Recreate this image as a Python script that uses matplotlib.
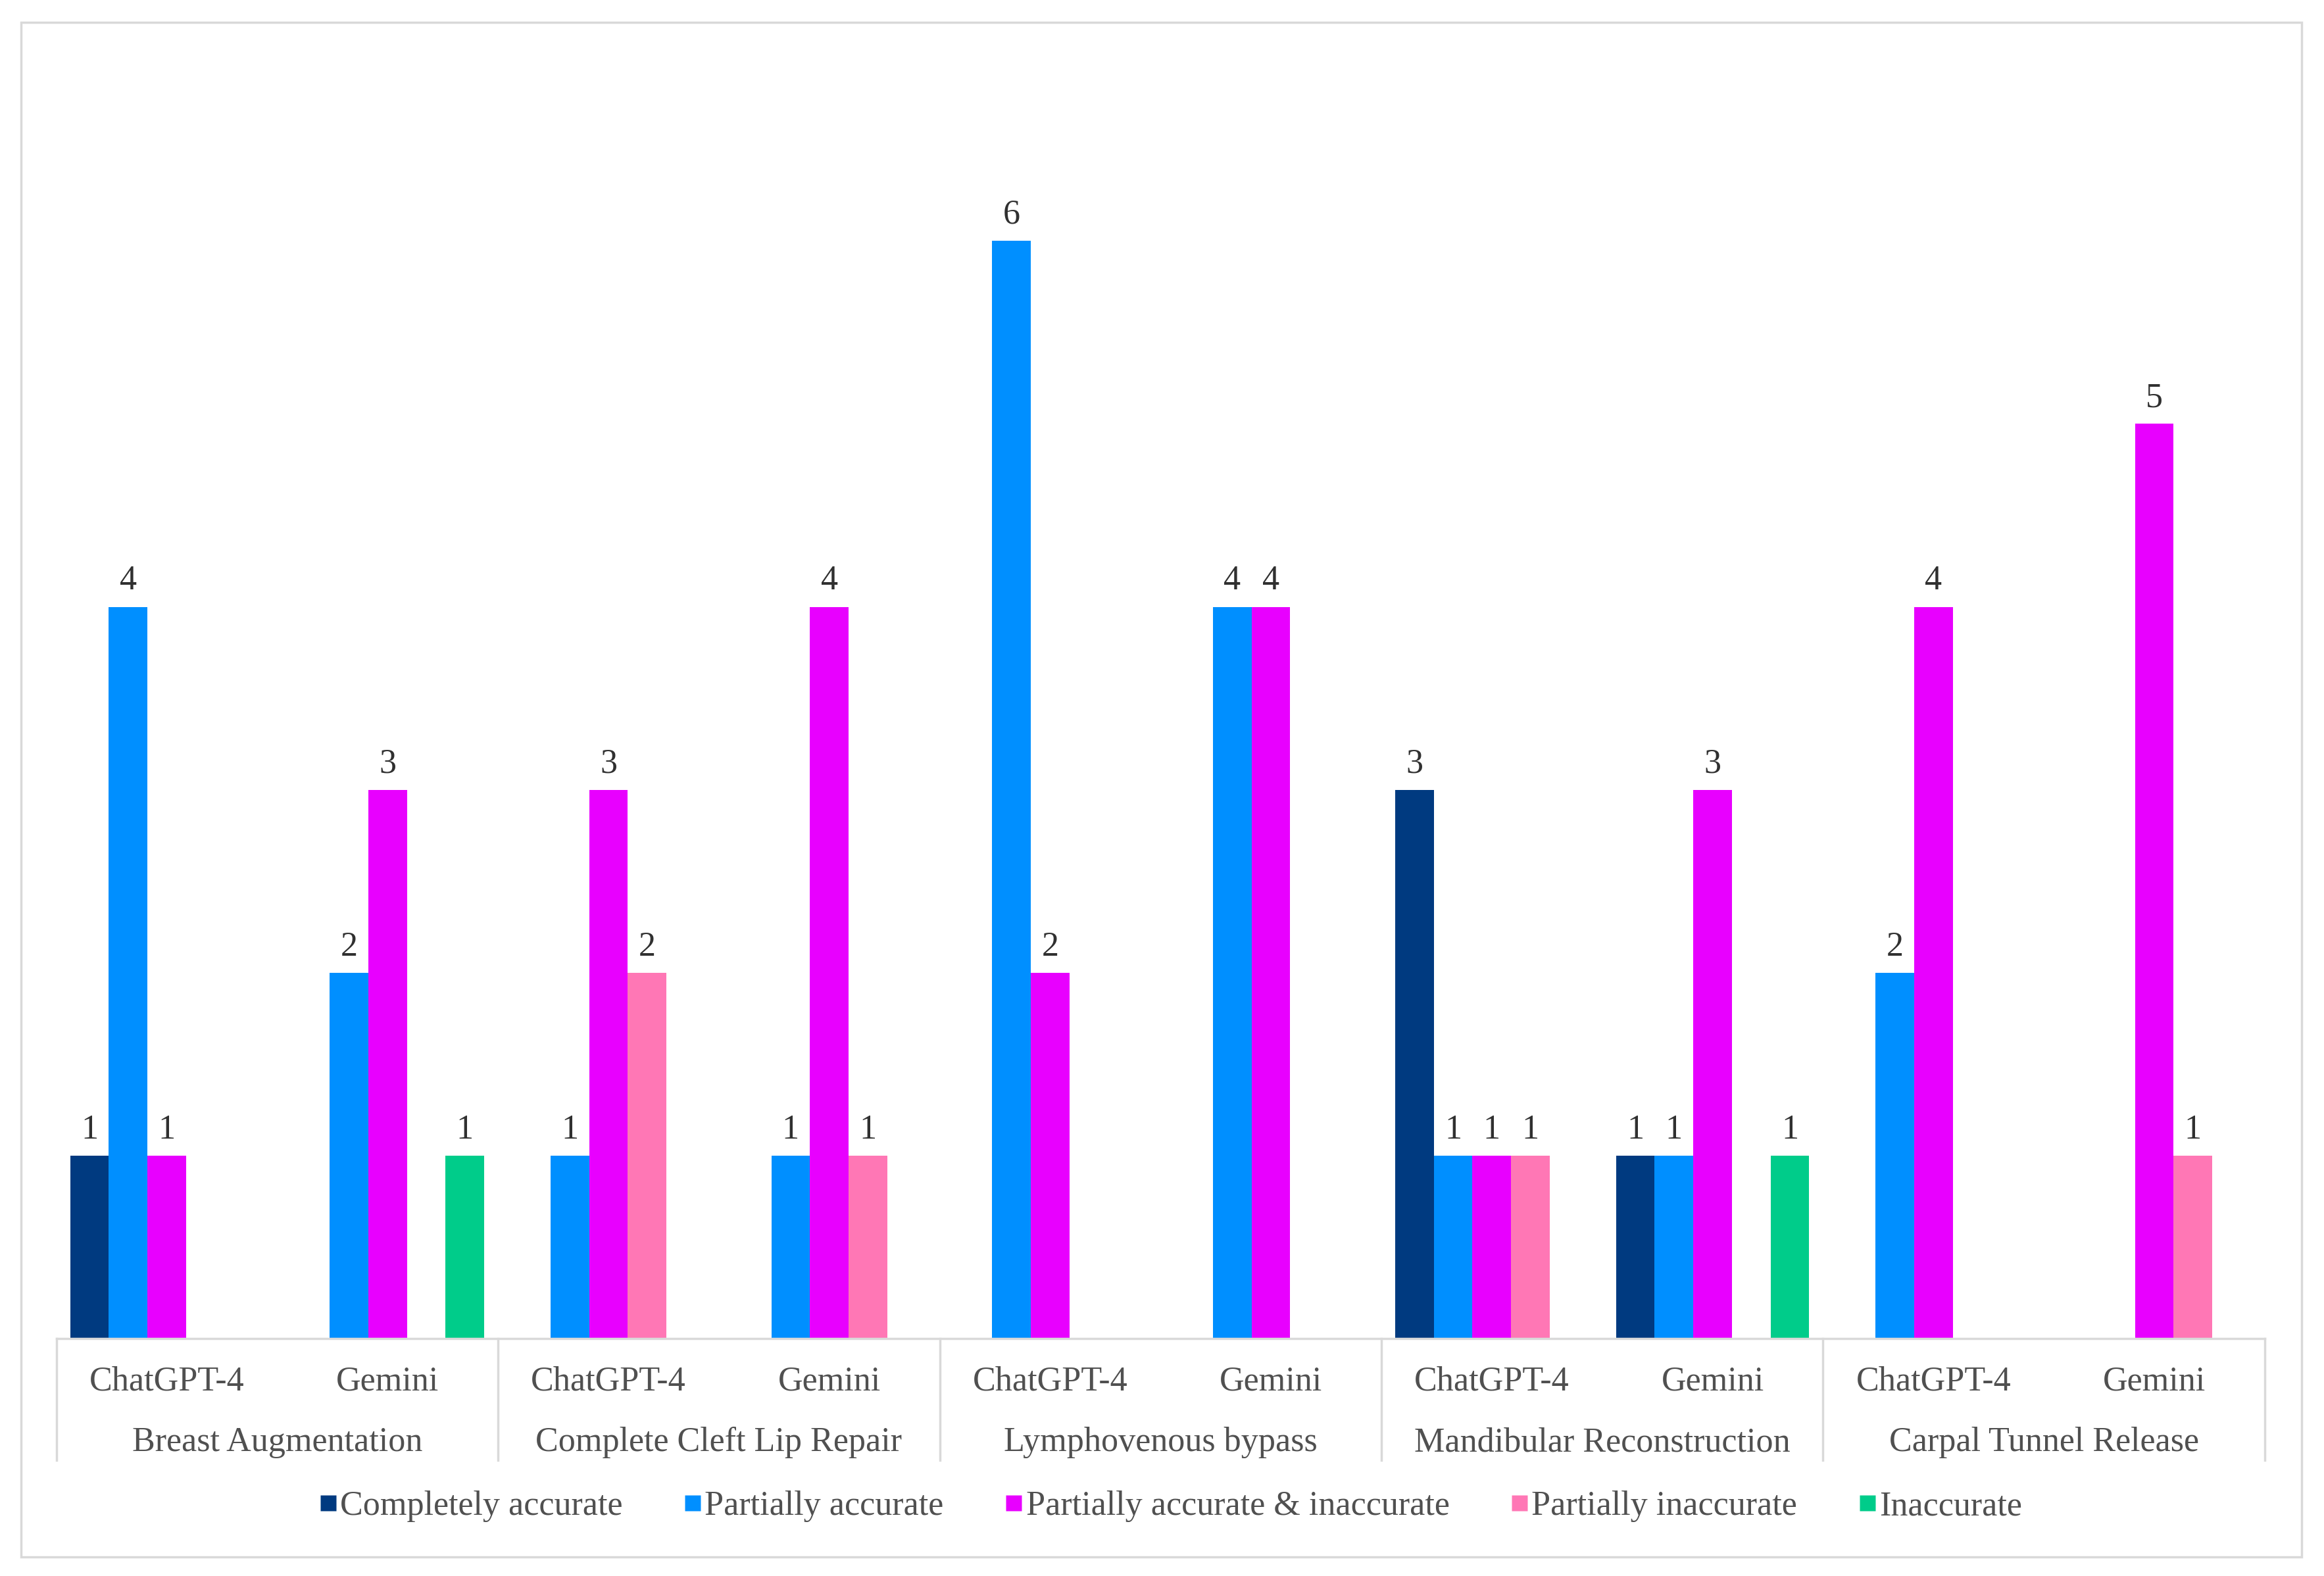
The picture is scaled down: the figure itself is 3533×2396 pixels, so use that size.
import matplotlib
matplotlib.use("Agg")
import matplotlib.pyplot as plt
from matplotlib.patches import Rectangle
from matplotlib.lines import Line2D
import matplotlib.transforms as mtransforms

# ---------------- data ----------------
procedures = ["Breast Augmentation", "Complete Cleft Lip Repair", "Lymphovenous bypass",
              "Mandibular Reconstruction", "Carpal Tunnel Release"]
models = ["ChatGPT-4", "Gemini"]
series_names = ["Completely accurate", "Partially accurate", "Partially accurate & inaccurate",
                "Partially inaccurate", "Inaccurate"]
# values per category (procedure x model order)
completely_accurate = [1, 0, 0, 0, 0, 0, 3, 1, 0, 0]
partially_accurate = [4, 2, 1, 1, 6, 4, 1, 1, 2, 0]
partially_acc_inacc = [1, 3, 3, 4, 2, 4, 1, 3, 4, 5]
partially_inaccurate = [0, 0, 2, 1, 0, 0, 1, 0, 0, 1]
inaccurate = [0, 1, 0, 0, 0, 0, 0, 1, 0, 0]
colors = ["#003A80", "#008FFF", "#E800FF", "#FF77B5", "#00CC8A"]

series = [completely_accurate, partially_accurate, partially_acc_inacc,
          partially_inaccurate, inaccurate]

W, H = 3533, 2396
DPI = 100
FS = 37.5
plt.rcParams['font.family'] = ['Liberation Serif', 'DejaVu Serif']
fig = plt.figure(figsize=(W / DPI, H / DPI), dpi=DPI)
fig.patch.set_facecolor("white")

# outer border
fig.patches.append(Rectangle((14 / 1568, 1 - 1050 / 1063), (1553 - 14) / 1568, (1050 - 15) / 1063,
                             transform=fig.transFigure, fill=False, edgecolor="#D9D9D9",
                             linewidth=2.5))

left = 38 / 1568
right = 1528 / 1568
bottom = 1 - 903 / 1063
top = 1 - 39 / 1063
ax = fig.add_axes([left, bottom, right - left, top - bottom])

n_cat = len(procedures) * len(models)
bw = 0.175
for j, (vals, col) in enumerate(zip(series, colors)):
    xs = [i + 0.5 + (j - 2) * bw for i in range(n_cat)]
    ax.bar(xs, vals, width=bw, color=col, edgecolor="none", label=series_names[j])
    for x, v in zip(xs, vals):
        if v > 0:
            ax.annotate(str(v), (x, v), xytext=(0, 11), textcoords="offset points",
                        ha="center", va="bottom", fontsize=FS, color="#303030")

ax.set_xlim(0, n_cat)
ax.set_ylim(0, 7)
for s in ["top", "right", "left"]:
    ax.spines[s].set_visible(False)
ax.spines["bottom"].set_color("#D9D9D9")
ax.spines["bottom"].set_linewidth(2.5)
ax.set_xticks([])
ax.set_yticks([])

trans = mtransforms.blended_transform_factory(ax.transData, ax.transAxes)
axis_h = 864.0
y_row1 = -29 / axis_h
y_row2 = -70 / axis_h
y_div = -82 / axis_h

labels_model = [m for p in procedures for m in models]
for i, lab in enumerate(labels_model):
    ax.text(i + 0.5, y_row1, lab, transform=trans, ha="center", va="center",
            fontsize=FS, color="#505050")
for k, p in enumerate(procedures):
    ax.text(2 * k + 1, y_row2, p, transform=trans, ha="center", va="center",
            fontsize=FS, color="#505050")
for k in range(len(procedures) + 1):
    ax.add_line(Line2D([2 * k, 2 * k], [0, y_div], transform=trans, color="#D9D9D9",
                       linewidth=2.5, clip_on=False))

handles = [Line2D([], [], marker="s", linestyle="none", markersize=17,
                  markerfacecolor=c, markeredgecolor="none") for c in colors]
fig.legend(handles, series_names, loc="center", bbox_to_anchor=(787 / 1568, 1 - 1016 / 1063),
           ncol=5, frameon=False, fontsize=FS, handletextpad=-0.15, columnspacing=1.55,
           labelcolor="#505050", handlelength=1.0)

fig.savefig("out.png", dpi=DPI, facecolor="white")
